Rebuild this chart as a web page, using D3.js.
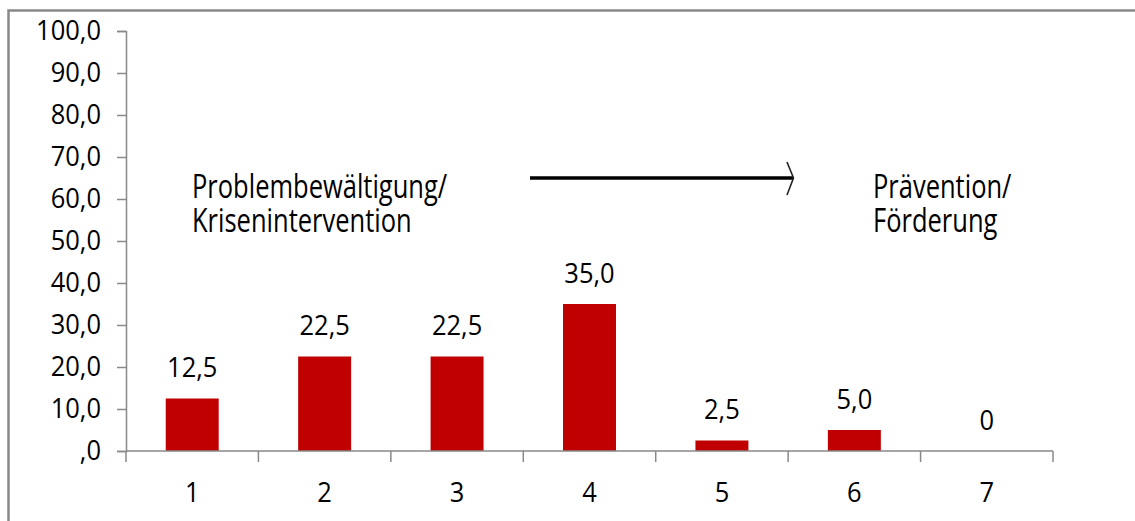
<!DOCTYPE html>
<html>
<head>
<meta charset="utf-8">
<script src="https://cdn.jsdelivr.net/npm/d3@7"></script>
<style>
  html, body { margin: 0; padding: 0; background: #fff; }
  svg { display: block; }
  text { font-family: "Open Sans", "Noto Sans", sans-serif; fill: #000; }
</style>
</head>
<body>
<svg id="chart" width="1135" height="521"></svg>
<script>
// Categories and values
const categories = ["1", "2", "3", "4", "5", "6", "7"];
const values = [12.5, 22.5, 22.5, 35.0, 2.5, 5.0, 0];
const valueLabels = ["12,5", "22,5", "22,5", "35,0", "2,5", "5,0", "0"];
const yTicks = [0, 10, 20, 30, 40, 50, 60, 70, 80, 90, 100];
const yTickLabels = [",0", "10,0", "20,0", "30,0", "40,0", "50,0", "60,0", "70,0", "80,0", "90,0", "100,0"];
const leftNote = ["Problembewältigung/", "Krisenintervention"];
const rightNote = ["Prävention/", "Förderung"];

const svg = d3.select("#chart");
const axisColor = "#898989";
const barColor = "#C00000";
const fontSize = 25.5;
const labelStretch = 1.1;   // slightly tall lettering for axis and value labels
const noteStretch = 1.26;   // taller lettering for the two annotations

// Outer frame (extends past right and bottom edges)
svg.append("rect")
  .attr("x", 8.5).attr("y", 10.5)
  .attr("width", 1140).attr("height", 530)
  .attr("fill", "none").attr("stroke", axisColor).attr("stroke-width", 2.5);

const plot = { left: 126, right: 1053, top: 31, bottom: 451 };

const x = d3.scaleBand().domain(categories).range([plot.left, plot.right]).padding(0);
const y = d3.scaleLinear().domain([0, 100]).range([plot.bottom, plot.top]);
const barW = x.bandwidth() * 0.4;

// Y axis
const yAxis = d3.axisLeft(y)
  .tickValues(yTicks)
  .tickSize(9)
  .tickPadding(16)
  .tickFormat((d, i) => yTickLabels[i]);
const gy = svg.append("g").attr("transform", `translate(${plot.left},0)`).call(yAxis);
gy.select(".domain").attr("stroke", axisColor).attr("stroke-width", 1.5);
gy.selectAll(".tick line").attr("stroke", axisColor).attr("stroke-width", 1.5);
gy.selectAll(".tick text")
  .style("font-size", fontSize + "px")
  .attr("fill", "#000")
  .attr("transform", `scale(1,${labelStretch})`);

// Bars
svg.append("g").selectAll("rect")
  .data(values)
  .join("rect")
  .attr("x", (d, i) => x(categories[i]) + (x.bandwidth() - barW) / 2)
  .attr("y", d => y(d))
  .attr("width", barW)
  .attr("height", d => y(0) - y(d))
  .attr("fill", barColor);

// X axis with boundary ticks between categories
const gx = svg.append("g").attr("transform", `translate(0,${plot.bottom})`);
gx.append("line")
  .attr("x1", plot.left).attr("x2", plot.right)
  .attr("stroke", axisColor).attr("stroke-width", 1.5);
const bounds = categories.map(c => x(c)).concat([plot.right]);
gx.selectAll("line.tk")
  .data(bounds)
  .join("line")
  .attr("class", "tk")
  .attr("x1", d => d).attr("x2", d => d)
  .attr("y1", 0).attr("y2", 11)
  .attr("stroke", axisColor).attr("stroke-width", 1.5);
gx.selectAll("text")
  .data(categories)
  .join("text")
  .attr("transform", d => `translate(${x(d) + x.bandwidth() / 2},41) scale(1,${labelStretch})`)
  .attr("dy", "0.35em")
  .attr("text-anchor", "middle")
  .style("font-size", fontSize + "px")
  .text(d => d);

// Value labels
svg.append("g").selectAll("text")
  .data(values)
  .join("text")
  .attr("transform", (d, i) => `translate(${x(categories[i]) + x.bandwidth() / 2},${y(d) - 21.5}) scale(1,${labelStretch})`)
  .attr("text-anchor", "middle")
  .style("font-size", fontSize + "px")
  .text((d, i) => valueLabels[i]);

// Annotations
function note(lines, left, baseline) {
  svg.append("text")
    .attr("transform", `translate(${left},${baseline}) scale(1,${noteStretch})`)
    .style("font-size", fontSize + "px")
    .selectAll("tspan").data(lines).join("tspan")
    .attr("x", 0).attr("dy", (d, i) => i ? 35 / noteStretch : 0)
    .text(d => d);
}
note(leftNote, 192, 197.5);
note(rightNote, 873, 197.5);

// Arrow from problem solving towards prevention
svg.append("line")
  .attr("x1", 530).attr("x2", 793)
  .attr("y1", 178).attr("y2", 178)
  .attr("stroke", "#000").attr("stroke-width", 3.5);
svg.append("path")
  .attr("d", "M787,162 L793.5,178 L787,195")
  .attr("fill", "none").attr("stroke", "#222").attr("stroke-width", 1.6);
</script>
</body>
</html>
